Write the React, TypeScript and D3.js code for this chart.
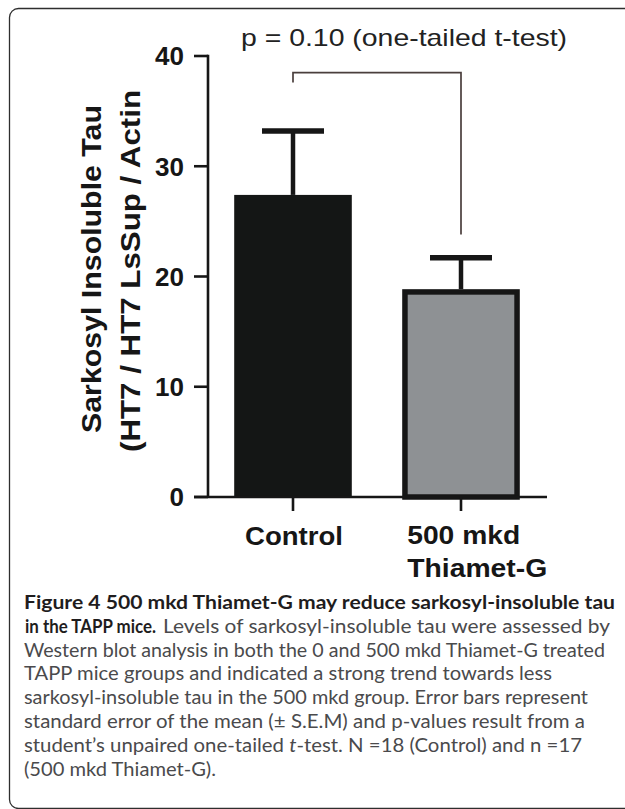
import * as d3 from 'd3';

// data
const categories = ['Control', '500 mkd Thiamet-G'];
const categoryLines = [['Control'], ['500 mkd', 'Thiamet-G']];
const means = [27.4, 18.6];
const sems = [5.8, 3.1];
const barFills = ['#141615', '#8e9194'];
const yTicks = [0, 10, 20, 30, 40];
const yLabelLines = ['Sarkosyl Insoluble Tau', '(HT7 / HT7 LsSup / Actin'];
const pLabel = 'p = 0.10 (one-tailed t-test)';
const bracketTop = 38.5;
const bracketEnds = [37.6, 23.8];

type Seg = { t: string; b?: boolean; i?: boolean };
const captionLines: Seg[][] = [
  [{ t: 'Figure 4 500 mkd Thiamet-G may reduce sarkosyl-insoluble tau', b: true }],
  [{ t: 'in the TAPP mice.', b: true }, { t: 'Levels of sarkosyl-insoluble tau were assessed by' }],
  [{ t: 'Western blot analysis in both the 0 and 500 mkd Thiamet-G treated' }],
  [{ t: 'TAPP mice groups and indicated a strong trend towards less' }],
  [{ t: 'sarkosyl-insoluble tau in the 500 mkd group. Error bars represent' }],
  [{ t: 'standard error of the mean (\u00b1 S.E.M) and p-values result from a' }],
  [{ t: 'student\u2019s unpaired one-tailed ' }, { t: 't', i: true }, { t: '-test. N =18 (Control) and n =17' }],
  [{ t: '(500 mkd Thiamet-G).' }],
];
// right edge of every caption line in the figure
const captionEnds = [615, 610, 605, 552, 588, 585, 582, 216];

const ARIAL = '"Liberation Sans", Arial, Helvetica, sans-serif';
const CAP = 'Lato, "Open Sans", sans-serif';
const INK = '#161616';

export default function App() {
  const y = d3.scaleLinear().domain([0, 40]).range([497, 56]);
  const x = d3.scaleBand<string>()
    .domain(categories)
    .range([209, 545])
    .paddingInner(0.3)
    .paddingOuter(0.15);
  const bw = x.bandwidth();
  const cx = (c: string) => (x(c) ?? 0) + bw / 2;
  const axisX = 208;
  const tickLen = 14;
  const y0 = y(0);

  const bx0 = cx(categories[0]);
  const bx1 = cx(categories[1]);
  const bracket = `M${bx0},${y(bracketEnds[0])}V${y(bracketTop)}H${bx1}V${y(bracketEnds[1])}`;

  const lineGap = 23.8;
  const capTop = 609;
  const capSize = 19.5;

  return (
    <svg
      width={625}
      height={809}
      style={{ position: 'absolute', left: 0, top: 0, background: '#fff', display: 'block' }}
    >
      {/* frame, open to the right */}
      <rect x={9.5} y={8.5} width={700} height={800} rx={9} fill="none" stroke="#2e2e2e" strokeWidth={1.3} />

      {/* bars */}
      {categories.map((c, i) => {
        const sw = i === 0 ? 0 : 5.5;
        return (
          <rect
            key={c}
            x={(x(c) ?? 0) + sw / 2}
            y={y(means[i])}
            width={bw - sw}
            height={y0 - y(means[i])}
            fill={barFills[i]}
            stroke={i === 0 ? 'none' : INK}
            strokeWidth={sw}
          />
        );
      })}

      {/* error bars (upper only) */}
      {categories.map((c, i) => (
        <g key={`e${c}`} stroke={INK}>
          <line x1={cx(c)} x2={cx(c)} y1={y(means[i]) - (i === 0 ? 0 : 2.75)} y2={y(means[i] + sems[i])} strokeWidth={4.5} />
          <line x1={cx(c) - 31} x2={cx(c) + 31} y1={y(means[i] + sems[i])} y2={y(means[i] + sems[i])} strokeWidth={5.5} />
        </g>
      ))}

      {/* axes */}
      <g stroke={INK} strokeWidth={2.6} fill="none">
        <line x1={axisX} x2={axisX} y1={y(40) - 1.3} y2={y0} />
        <line x1={axisX - tickLen} x2={547} y1={y0} y2={y0} />
        {yTicks.map(t => (
          <line key={t} x1={axisX - tickLen} x2={axisX} y1={y(t)} y2={y(t)} />
        ))}
        {categories.map(c => (
          <line key={c} x1={cx(c)} x2={cx(c)} y1={y0} y2={y0 + tickLen} />
        ))}
      </g>

      {/* y tick labels */}
      {yTicks.map(t => (
        <text
          key={t}
          x={184}
          y={y(t)}
          dy="0.36em"
          textAnchor="end"
          fontFamily={ARIAL}
          fontWeight="bold"
          fontSize={26}
          fill={INK}
        >
          {t}
        </text>
      ))}

      {/* y axis title */}
      {yLabelLines.map((l, i) => (
        <text
          key={l}
          transform={`translate(${i === 0 ? 101 : 140},${i === 0 ? 269 : 271}) rotate(-90)`}
          textAnchor="middle"
          fontFamily={ARIAL}
          fontWeight="bold"
          fontSize={27}
          fill={INK}
          textLength={i === 0 ? 328 : 362}
          lengthAdjust="spacingAndGlyphs"
        >
          {l}
        </text>
      ))}

      {/* x labels */}
      <text
        x={cx(categories[0]) + 1}
        y={545}
        textAnchor="middle"
        fontFamily={ARIAL}
        fontWeight="bold"
        fontSize={25}
        fill={INK}
        textLength={98}
        lengthAdjust="spacingAndGlyphs"
      >
        {categoryLines[0][0]}
      </text>
      {categoryLines[1].map((l, k) => (
        <text
          key={l}
          x={(x(categories[1]) ?? 0) + 5}
          y={544 + k * 33}
          fontFamily={ARIAL}
          fontWeight="bold"
          fontSize={25}
          fill={INK}
          textLength={k === 0 ? 113 : 140}
          lengthAdjust="spacingAndGlyphs"
        >
          {l}
        </text>
      ))}

      {/* significance bracket */}
      <path d={bracket} fill="none" stroke="#4a3f3d" strokeWidth={1.7} />
      <text
        x={241}
        y={46}
        fontFamily={ARIAL}
        fontSize={24}
        fill="#222"
        textLength={326}
        lengthAdjust="spacingAndGlyphs"
      >
        {pLabel}
      </text>

      {/* caption */}
      {captionLines.map((segs, i) => {
        const yy = capTop + i * lineGap;
        if (i === 1) {
          return (
            <g key={i}>
              <text x={25} y={yy} fontFamily={CAP} fontSize={capSize} fontWeight="bold" fill="#1f1d1e"
                textLength={131} lengthAdjust="spacingAndGlyphs">{segs[0].t}</text>
              <text x={163} y={yy} fontFamily={CAP} fontSize={capSize} fill="#4a4a4c"
                textLength={captionEnds[i] - 163} lengthAdjust="spacingAndGlyphs">{segs[1].t}</text>
            </g>
          );
        }
        return (
          <text
            key={i}
            x={24}
            y={yy}
            fontFamily={CAP}
            fontSize={capSize}
            fill={segs[0].b ? '#1f1d1e' : '#4a4a4c'}
            fontWeight={segs[0].b ? 'bold' : 'normal'}
            textLength={captionEnds[i] - 24}
            lengthAdjust="spacingAndGlyphs"
          >
            {segs.map((s, k) => (
              <tspan key={k} fontStyle={s.i ? 'italic' : 'normal'}>{s.t}</tspan>
            ))}
          </text>
        );
      })}
    </svg>
  );
}
